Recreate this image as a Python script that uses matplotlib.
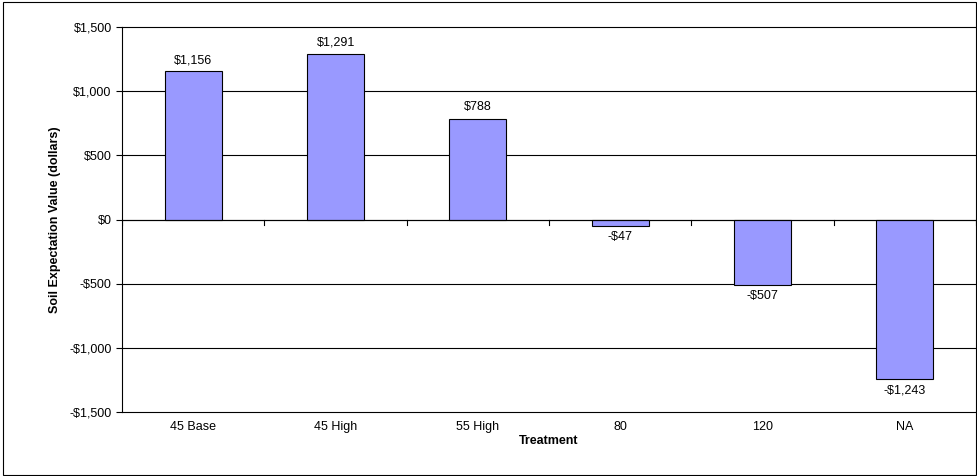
import matplotlib.pyplot as plt
import numpy as np

treatments = ['45 Base', '45 High', '55 High', '80', '120', 'NA']
sev = [1156, 1291, 788, -47, -507, -1243]
labels = ['$1,156', '$1,291', '$788', '-$47', '-$507', '-$1,243']

plt.rcParams['font.family'] = ['Liberation Sans', 'DejaVu Sans']

fig = plt.figure(figsize=(9.77, 4.76), dpi=100)
ax = fig.add_axes([0.125, 0.134, 0.874, 0.809])
fig.patches.append(plt.Rectangle((0.003, 0.002), 0.996, 0.994, transform=fig.transFigure,
                                 fill=False, edgecolor='black', linewidth=0.8))

x = np.arange(len(treatments))
ax.bar(x, sev, width=0.4, color='#9999FF', edgecolor='black', linewidth=0.8, zorder=3)
for xi, v, lab in zip(x, sev, labels):
    off = 40 if v > 0 else -40
    ax.text(xi, v + off, lab, ha='center', va='bottom' if v > 0 else 'top', fontsize=9)

ax.set_xlim(-0.5, len(treatments) - 0.5)
ax.set_ylim(-1500, 1500)
ax.set_yticks(np.arange(-1500, 1501, 500))
ax.set_yticklabels(['-$1,500', '-$1,000', '-$500', '$0', '$500', '$1,000', '$1,500'], fontsize=9)
ax.set_xticks(x)
ax.set_xticklabels(treatments, fontsize=9)
ax.tick_params(axis='x', length=0, pad=6)
ax.tick_params(axis='y', length=4)
for yv in np.arange(-1500, 1501, 500):
    ax.axhline(yv, color='black', linewidth=0.8, zorder=0, clip_on=False)
# category separator ticks on the zero line
for b in np.arange(-0.5, len(treatments), 1.0):
    ax.plot([b, b], [0, -40], color='black', linewidth=0.8, zorder=4)
ax.axhline(0, color='black', linewidth=0.8, zorder=4)
for s in ['top', 'right', 'bottom']:
    ax.spines[s].set_visible(False)
ax.spines['left'].set_color('black')

ax.set_xlabel('Treatment', fontsize=9, fontweight='bold', labelpad=2)
ax.set_ylabel('Soil Expectation Value (dollars)', fontsize=9, fontweight='bold', labelpad=6)

fig.savefig('out.png', dpi=100)
